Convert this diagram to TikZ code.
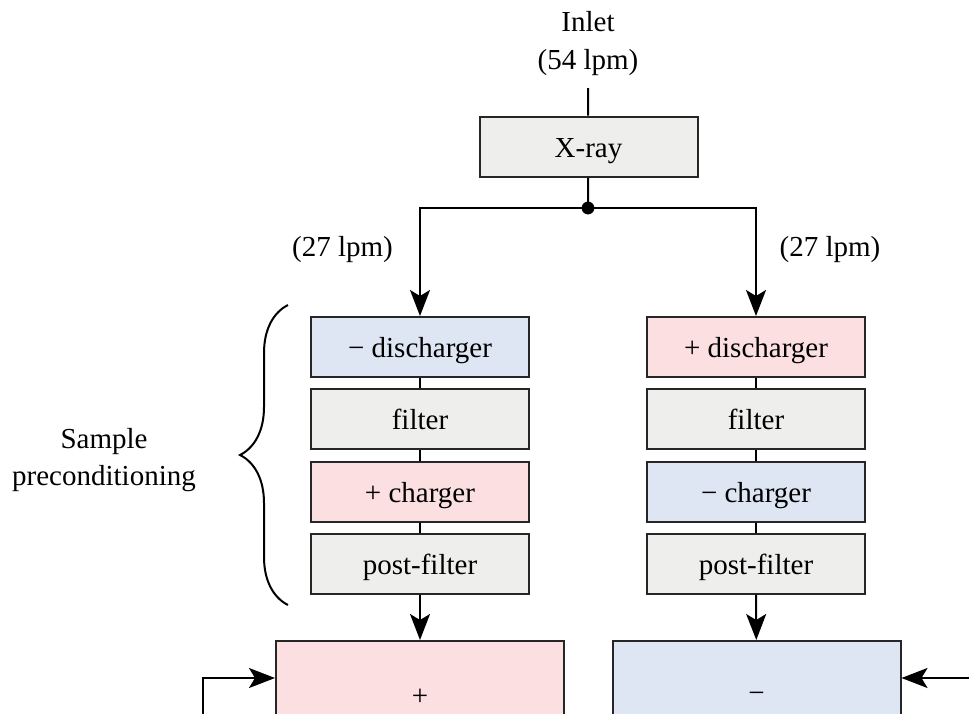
\documentclass[tikz,border=0pt]{standalone}
\usepackage{fontspec}
\setmainfont{Liberation Serif}
\usetikzlibrary{arrows.meta}
\usetikzlibrary{decorations.pathreplacing}

\definecolor{boxgray}{HTML}{EEEEEC}
\definecolor{boxblue}{HTML}{DDE6F2}
\definecolor{boxpink}{HTML}{FCE0E1}

\begin{document}
\begin{tikzpicture}[x=0.5pt,y=-0.5pt,
    font=\fontsize{14.5pt}{19pt}\selectfont,
    stage/.style={draw=black!85,line width=1pt,minimum width=109pt,minimum height=30pt,inner sep=0pt,text height=10.5pt,text depth=0pt},
    precip/.style={draw=black!85,line width=1pt,minimum width=144pt,minimum height=56pt,inner sep=0pt},
    flow/.style={-{Stealth[length=13pt,width=10pt,inset=3pt]},line width=1pt}]
    \useasboundingbox (0,0) rectangle (969,713);
    \clip (0,0) rectangle (969,713);

    \node[align=center] (inlet) at (588,44) {Inlet\\(54 lpm)};
    \coordinate (in) at (588,88);
    \node[stage,fill=boxgray] (xray) at (588.5,146.5) {X-ray};
    \coordinate (split) at (588,208);

    % left column
    \node[stage,fill=boxblue] (dis1) at (420,347) {− discharger};
    \node[stage,fill=boxgray] (fil1) at (420,419) {filter};
    \node[stage,fill=boxpink] (chg1) at (420,491.5) {+ charger};
    \node[stage,fill=boxgray] (pf1) at (420,563.5) {post-filter};

    % right column
    \node[stage,fill=boxpink] (dis2) at (756,347) {+ discharger};
    \node[stage,fill=boxgray] (fil2) at (756,419) {filter};
    \node[stage,fill=boxblue] (chg2) at (756,491.5) {− charger};
    \node[stage,fill=boxgray] (pf2) at (756,563.5) {post-filter};

    \node (q1) at (342.5,250) {(27 lpm)};
    \node (q2) at (830,250) {(27 lpm)};

    \node[precip,fill=boxpink] (pos) at (420,697) {+};
    \node[precip,fill=boxblue] (neg) at (756.5,697) {−};

    \node[align=center,font=\fontsize{14.5pt}{18.5pt}\selectfont] (pre) at (104,460) {Sample\\preconditioning};

    \draw[line width=1pt] (in) -- (xray) -- (split);
    \fill (split) circle[radius=3.2pt];
    \draw[flow] (split) -| (dis1);
    \draw[flow] (split) -| (dis2);

    \draw[line width=1pt] (dis1) -- (fil1) -- (chg1) -- (pf1);
    \draw[line width=1pt] (dis2) -- (fil2) -- (chg2) -- (pf2);

    \draw[line width=1pt,decorate,decoration={brace,amplitude=24pt}] (288,605) -- (288,305);

    \draw[flow] (pf1) -- (pos);
    \draw[flow] (pf2) -- (neg);

    % return lines into the bottom boxes
    \coordinate (retl) at (203,678);
    \coordinate (retlb) at (203,740);
    \coordinate (retr) at (980,678);
    \draw[flow] (retlb) -- (retl) -- (retl -| pos.west);
    \draw[flow] (retr) -- (retr -| neg.east);
\end{tikzpicture}
\end{document}
